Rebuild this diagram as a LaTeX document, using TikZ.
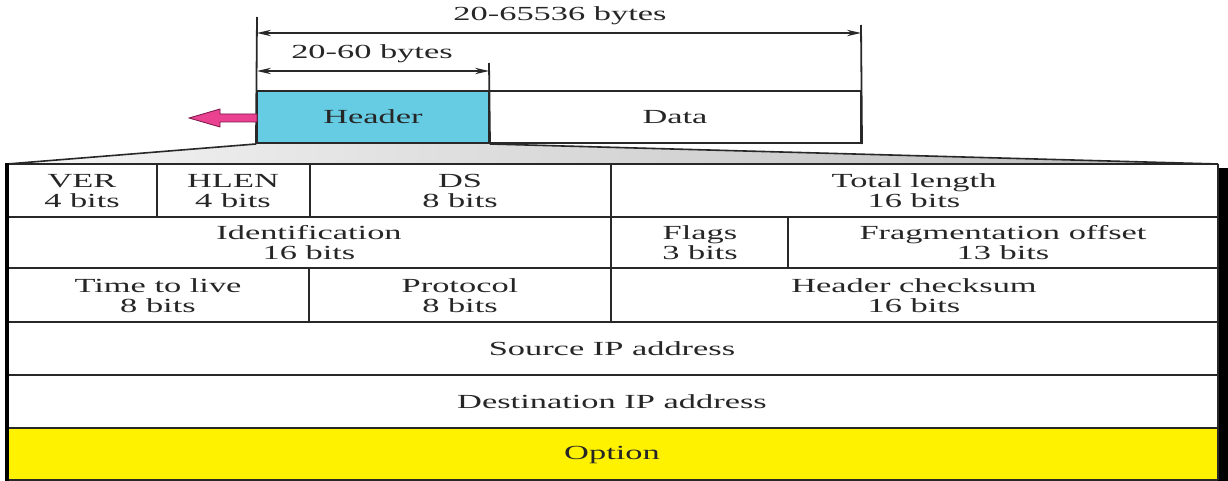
\documentclass[tikz,border=0pt]{standalone}
\usepackage{fontspec}
\setmainfont{Liberation Serif}[FakeStretch=1.72]
\usetikzlibrary{arrows.meta}
\definecolor{hdrblue}{RGB}{102,204,228}
\definecolor{pinkarr}{RGB}{234,66,144}
\definecolor{pinkedge}{RGB}{120,20,70}
\definecolor{linec}{RGB}{40,40,40}
\begin{document}
\begin{tikzpicture}[x=0.5pt,y=-0.5pt,
  lbl/.style={font=\fontsize{10}{10}\selectfont, align=center, inner sep=0pt, text=black!85},
  grid/.style={draw=linec, line width=1pt},
  box/.style={draw=linec, line width=1pt, inner sep=0pt, minimum height=26pt, font=\fontsize{10}{10}\selectfont, text=black!85},
  ext/.style={draw=linec, line width=0.9pt},
  dim/.style={draw=linec, line width=0.6pt, {Stealth[length=7pt,width=3.2pt]}-{Stealth[length=7pt,width=3.2pt]}}]
\useasboundingbox (0,0) rectangle (1228,481);
% trapezoid (zoom)
\shade[left color=gray!8, right color=gray!55] (257,143) -- (489,143) -- (1218,164) -- (7,164) -- cycle;
% table fills and shadow
\fill[yellow] (7,428) rectangle (1218,480);
\fill[black] (1218,168) rectangle (1228,481);
% header / data
\node[box, fill=hdrblue, minimum width=116pt] (header) at (373,117) {Header};
\node[box, fill=white, minimum width=186pt] (data) at (675,117) {Data};
\draw[linec, line width=0.8pt] (7,164) -- (header.south west);
\draw[linec, line width=0.8pt] (header.south east) -- (1218,164);
% extension lines
\coordinate (t1) at (257,17);
\coordinate (t2) at (489,63);
\coordinate (t3) at (861,25);
\draw[ext] (header.south west) -- (t1);
\draw[ext] (header.south east) -- (t2);
\draw[ext] (data.south east) -- (t3);
% dimension arrows
\coordinate (a1l) at (257,33);
\coordinate (a1r) at (861,33);
\coordinate (a2l) at (257,71);
\coordinate (a2r) at (489,71);
\draw[dim] (a1l) -- (a1r);
\draw[dim] (a2l) -- (a2r);
\node[lbl] (len1) at (560,16) {20-65536 bytes};
\node[lbl] (len2) at (372,54) {20-60 bytes};
% pink arrow
\fill[pinkarr, draw=pinkedge, line width=0.4pt, line join=miter]
  (189,118) -- (220,109) -- (220,114) -- (257,114) -- (257,122) -- (220,122) -- (220,127) -- cycle;
% table grid
\foreach \yy in {164,217,268,322,375,428,480} \draw[grid] (7,\yy) -- (1218,\yy);
\draw[draw=black, line width=1.6pt] (7,163.5) -- (7,480.5);
\draw[grid] (1218,164) -- (1218,480);
\draw[grid] (157,164) -- (157,217);
\draw[grid] (310,164) -- (310,217);
\draw[grid] (611,164) -- (611,322);
\draw[grid] (788,217) -- (788,268);
\draw[grid] (309,268) -- (309,322);
% labels
\node[lbl] (ver) at (82,191) {VER\\4 bits};
\node[lbl] (hlen) at (233,191) {HLEN\\4 bits};
\node[lbl] (ds) at (460,191) {DS\\8 bits};
\node[lbl] (tot) at (914,191) {Total length\\16 bits};
\node[lbl] (ident) at (309,243) {Identification\\16 bits};
\node[lbl] (flags) at (700,243) {Flags\\3 bits};
\node[lbl] (frag) at (1003,243) {Fragmentation offset\\13 bits};
\node[lbl] (ttl) at (158,296) {Time to live\\8 bits};
\node[lbl] (proto) at (460,296) {Protocol\\8 bits};
\node[lbl] (csum) at (914,296) {Header checksum\\16 bits};
\node[lbl] (src) at (612,349) {Source IP address};
\node[lbl] (dst) at (612,402) {Destination IP address};
\node[lbl] (opt) at (612,455) {Option};
\end{tikzpicture}
\end{document}
